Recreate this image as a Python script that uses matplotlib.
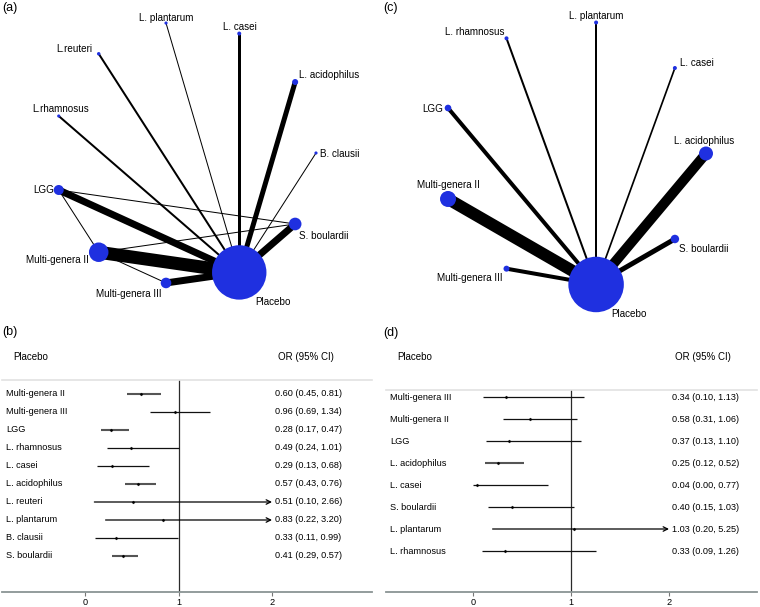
import numpy as np
import matplotlib
matplotlib.use("Agg")
import matplotlib.pyplot as plt
from matplotlib.patches import Circle

plt.rcParams['font.family'] = ['Liberation Sans', 'DejaVu Sans']

W, H = 760, 607
node_blue = '#1f30e0'

# ---- (a) network, all studies (nodes in alphabetical order, placed round a circle)
net_a_nodes = ["B. clausii", "L. acidophilus", "L. casei", "L. plantarum", "L.reuteri",
               "L.rhamnosus", "LGG", "Multi-genera II", "Multi-genera III", "Placebo",
               "S. boulardii"]
net_a_size = [2.5, 9, 4, 2.5, 3, 2.5, 25, 95, 28, 740, 40]
net_a_edges = [("Placebo", "Multi-genera II", 13), ("Placebo", "LGG", 7),
               ("Placebo", "S. boulardii", 7), ("Placebo", "Multi-genera III", 7),
               ("Placebo", "L. acidophilus", 5), ("Placebo", "L. casei", 3),
               ("Placebo", "L.reuteri", 2), ("Placebo", "L.rhamnosus", 2),
               ("Placebo", "L. plantarum", 1), ("Placebo", "B. clausii", 1),
               ("LGG", "Multi-genera II", 1), ("LGG", "S. boulardii", 1),
               ("Multi-genera II", "S. boulardii", 1), ("Multi-genera II", "Multi-genera III", 1)]

# ---- (c) network, subgroup
net_c_nodes = ["L. acidophilus", "L. casei", "L. plantarum", "L. rhamnosus", "LGG",
               "Multi-genera II", "Multi-genera III", "Placebo", "S. boulardii"]
net_c_size = [49, 4, 4, 4, 11, 64, 9, 770, 18]
net_c_edges = [("Placebo", "Multi-genera II", 12), ("Placebo", "L. acidophilus", 10),
               ("Placebo", "S. boulardii", 5), ("Placebo", "LGG", 4),
               ("Placebo", "Multi-genera III", 4), ("Placebo", "L. plantarum", 2),
               ("Placebo", "L. rhamnosus", 2), ("Placebo", "L. casei", 1.7)]

# ---- (b) forest plot
forest_b_labels = ["Multi-genera II", "Multi-genera III", "LGG", "L. rhamnosus", "L. casei",
                   "L. acidophilus", "L. reuteri", "L. plantarum", "B. clausii", "S. boulardii"]
forest_b_or = [0.60, 0.96, 0.28, 0.49, 0.29, 0.57, 0.51, 0.83, 0.33, 0.41]
forest_b_lo = [0.45, 0.69, 0.17, 0.24, 0.13, 0.43, 0.10, 0.22, 0.11, 0.29]
forest_b_hi = [0.81, 1.34, 0.47, 1.01, 0.68, 0.76, 2.66, 3.20, 0.99, 0.57]

# ---- (d) forest plot
forest_d_labels = ["Multi-genera III", "Multi-genera II", "LGG", "L. acidophilus", "L. casei",
                   "S. boulardii", "L. plantarum", "L. rhamnosus"]
forest_d_or = [0.34, 0.58, 0.37, 0.25, 0.04, 0.40, 1.03, 0.33]
forest_d_lo = [0.10, 0.31, 0.13, 0.12, 0.00, 0.15, 0.20, 0.09]
forest_d_hi = [1.13, 1.06, 1.10, 0.52, 0.77, 1.03, 5.25, 1.26]

xticks = [0, 1, 2]
x_clip = 2.0


def px_axes(fig, left, top, right, bottom):
    return fig.add_axes([left / W, 1 - bottom / H, (right - left) / W, (bottom - top) / H])


def draw_network(ax, nodes, sizes, edges, label_pos, scale):
    n = len(nodes)
    ang = 2 * np.pi * np.arange(n) / n
    xy = {name: (np.cos(a), np.sin(a)) for name, a in zip(nodes, ang)}
    for a, b, w in edges:
        ax.plot([xy[a][0], xy[b][0]], [xy[a][1], xy[b][1]], color='black',
                lw=w * 0.72, solid_capstyle='butt', zorder=1)
    for name, s in zip(nodes, sizes):
        ax.add_patch(Circle(xy[name], np.sqrt(s) / scale, color=node_blue, lw=0, zorder=2))
        dx, dy, ha = label_pos[name]
        ax.annotate(name, xy[name], xytext=(dx * 0.72, -dy * 0.72), textcoords='offset points',
                    ha=ha, va='center', fontsize=7.1, zorder=3)
    ax.axis('off')


def draw_forest(ax, labels, est, lo, hi, zero_px, unit, row0, step, rect):
    left, top, right, bottom = rect
    ax.set_xlim((left - zero_px) / unit, (right - zero_px) / unit)
    ax.set_ylim((bottom - row0) / step, (top - row0) / step)
    tx = lambda p: (p - zero_px) / unit
    ty = lambda p: (p - row0) / step

    ax.axvline(1, color='#2a2a2a', lw=0.9, zorder=1)
    for i, (lab, e, l, h) in enumerate(zip(labels, est, lo, hi)):
        narrow = (h - l) < 0.45
        col = '#555555' if narrow else '#111111'
        lw = 1.5 if narrow else 0.9
        if h > x_clip:
            ax.annotate('', xy=(x_clip, i), xytext=(l, i),
                        arrowprops=dict(arrowstyle='->', color='black', lw=0.9,
                                        mutation_scale=8, shrinkA=0, shrinkB=0))
        else:
            ax.plot([l, h], [i, i], color=col, lw=lw, solid_capstyle='butt', zorder=2)
        ax.plot(e, i, marker='D', color='black', ms=1.5, mew=0.3, zorder=3)
        ax.text(tx(left + 4), i, lab, ha='left', va='center', fontsize=6.6)
        ax.text(2.03, i, f"{e:.2f} ({l:.2f}, {h:.2f})", ha='left', va='center', fontsize=6.6)

    ax.text(tx(left + 11), ty(357), "Placebo", ha='left', va='center', fontsize=7, clip_on=False)
    ax.text(2.06, ty(357), "OR (95% CI)", ha='left', va='center', fontsize=7, clip_on=False)

    for sp in ['left', 'right']:
        ax.spines[sp].set_visible(False)
    ax.spines['bottom'].set_color('#8a9494')
    ax.spines['bottom'].set_linewidth(1.3)
    ax.spines['top'].set_color('#e2e2e2')
    ax.spines['top'].set_linewidth(1.2)
    ax.set_yticks([])
    ax.set_xticks(xticks)
    ax.tick_params(axis='x', direction='out', length=3, width=0.8, color='#777777',
                   labelsize=6.6, pad=1.5)


fig = plt.figure(figsize=(W / 100, H / 100), dpi=100)

# (a)
R_a, cx_a, cy_a = 131.3, 184.7, 153.0
ax_a = px_axes(fig, 0, 0, 380, 312)
ax_a.set_xlim((0 - cx_a) / R_a, (380 - cx_a) / R_a)
ax_a.set_ylim((cy_a - 312) / R_a, (cy_a - 0) / R_a)
labels_a = {"L. plantarum": (0, -5, 'center'), "L. casei": (1, -7, 'center'),
            "L.reuteri": (-6, -5, 'right'), "L. acidophilus": (4, -7, 'left'),
            "L.rhamnosus": (2, -7, 'center'), "B. clausii": (4, 1, 'left'),
            "LGG": (-5, 0, 'right'), "S. boulardii": (4, 12, 'left'),
            "Multi-genera II": (-10, 8, 'right'), "Multi-genera III": (-4, 11, 'right'),
            "Placebo": (16, 30, 'left')}
draw_network(ax_a, net_a_nodes, net_a_size, net_a_edges, labels_a, R_a)

# (c)
R_c, cx_c, cy_c = 133.0, 573.0, 153.5
ax_c = px_axes(fig, 380, 0, 760, 322)
ax_c.set_xlim((380 - cx_c) / R_c, (760 - cx_c) / R_c)
ax_c.set_ylim((cy_c - 322) / R_c, (cy_c - 0) / R_c)
labels_c = {"L. plantarum": (0, -7, 'center'), "L. rhamnosus": (-2, -6, 'right'),
            "L. casei": (5, -5, 'left'), "LGG": (-5, 1, 'right'),
            "L. acidophilus": (-2, -12, 'center'), "Multi-genera II": (0, -14, 'center'),
            "S. boulardii": (4, 10, 'left'), "Multi-genera III": (-4, 9, 'right'),
            "Placebo": (15, 30, 'left')}
draw_network(ax_c, net_c_nodes, net_c_size, net_c_edges, labels_c, R_c)

# (b)
rect_b = (2, 380, 372, 592)
ax_b = px_axes(fig, *rect_b)
draw_forest(ax_b, forest_b_labels, forest_b_or, forest_b_lo, forest_b_hi,
            85, 93.5, 394, 18, rect_b)

# (d)
rect_d = (386, 390, 757, 592)
ax_d = px_axes(fig, *rect_d)
draw_forest(ax_d, forest_d_labels, forest_d_or, forest_d_lo, forest_d_hi,
            473, 98, 397, 22, rect_d)

# panel letters
for lab, x, y in [("(a)", 2, 8), ("(c)", 383, 8), ("(b)", 2, 332), ("(d)", 383, 333)]:
    fig.text(x / W, 1 - y / H, lab, ha='left', va='center', fontsize=9)

fig.savefig("out.png", dpi=100)
